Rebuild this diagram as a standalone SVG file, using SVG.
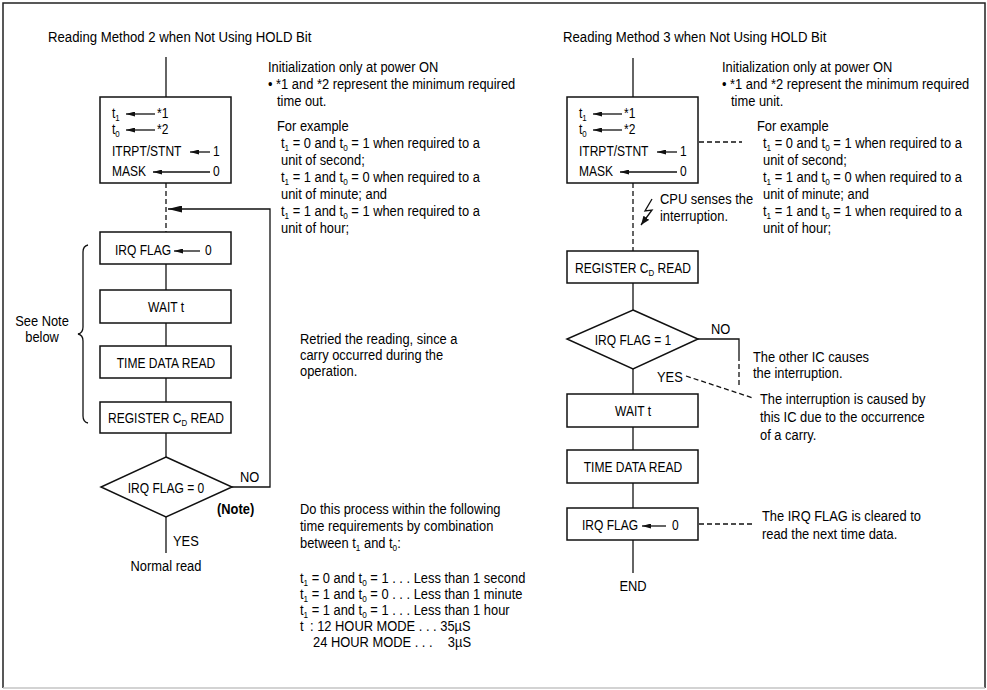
<svg xmlns="http://www.w3.org/2000/svg" width="987" height="690" viewBox="0 0 987 690">
<style>
text { font-family: "Liberation Sans", Arial, sans-serif; font-size: 15px; fill: #000; transform-box: fill-box; transform-origin: 0% 50%; transform: scaleX(0.86); }
.t { font-size: 15.5px; transform: scaleX(0.85); }
.bx { font-size: 14.5px; transform: scaleX(0.83); }
.sub { font-size: 9.5px; }
.mid { text-anchor: middle; transform-origin: 50% 50%; }
.end { text-anchor: end; transform-origin: 100% 50%; }
.b { font-weight: bold; }
.box { fill: #fff; stroke: #111; stroke-width: 1.5; }
.ln { stroke: #111; stroke-width: 1.3; fill: none; }
.dash { stroke-dasharray: 5 3; }
</style>
<defs>
<marker id="sa" markerUnits="userSpaceOnUse" markerWidth="9" markerHeight="5" viewBox="0 0 9 5" refX="9" refY="2.5" orient="auto"><path d="M0,0 L9,2.5 L0,5 z" fill="#111"/></marker>
<marker id="la" markerUnits="userSpaceOnUse" markerWidth="14" markerHeight="7" viewBox="0 0 14 7" refX="14" refY="3.5" orient="auto"><path d="M0,0 L14,3.5 L0,7 z" fill="#111"/></marker>
<marker id="za" markerUnits="userSpaceOnUse" markerWidth="9" markerHeight="7" viewBox="0 0 9 7" refX="9" refY="3.5" orient="auto"><path d="M0,0 L9,3.5 L0,7 z" fill="#111"/></marker>
</defs>

<g id="frame">
<path d="M3,688 V3 H985 V688" fill="none" stroke="#222" stroke-width="1.5"/>
<path d="M3,688 H985" stroke="#c4c4c4" stroke-width="1.5"/>
</g>

<g id="connectors">
<line class="ln" x1="166" y1="57" x2="166" y2="97"/>
<line class="ln dash" x1="166" y1="183" x2="166" y2="232"/>
<path class="ln" d="M232,487 H270 V209 H168" marker-end="url(#la)"/>
<line class="ln" x1="166" y1="264" x2="166" y2="290"/>
<line class="ln" x1="166" y1="323" x2="166" y2="346"/>
<line class="ln" x1="166" y1="378" x2="166" y2="402"/>
<line class="ln" x1="166" y1="433" x2="166" y2="457"/>
<line class="ln" x1="166" y1="517" x2="166" y2="553"/>
<line class="ln" x1="633" y1="58" x2="633" y2="97"/>
<line class="ln dash" x1="633" y1="183" x2="633" y2="251"/>
<line class="ln dash" x1="699" y1="142" x2="742" y2="142"/>
<polyline class="ln" points="652,199 645,211 652,210 641,225" marker-end="url(#za)"/>
<line class="ln" x1="633" y1="283" x2="633" y2="310"/>
<path class="ln" d="M698,339 H739 V356"/>
<line class="ln dash" x1="739" y1="356" x2="739" y2="388"/>
<line class="ln dash" x1="686" y1="376" x2="753" y2="398"/>
<line class="ln" x1="633" y1="369" x2="633" y2="394"/>
<line class="ln" x1="633" y1="427" x2="633" y2="450"/>
<line class="ln" x1="633" y1="483" x2="633" y2="508"/>
<line class="ln dash" x1="699" y1="524" x2="752" y2="524"/>
<line class="ln" x1="633" y1="540" x2="633" y2="573"/>
</g>

<!-- LEFT -->
<g id="title-left"><text class="t" x="48" y="42">Reading Method 2 when Not Using HOLD Bit</text></g>

<g id="l-init">
<rect class="box" x="100" y="97" width="131" height="86"/>
<text class="bx" x="112" y="118">t<tspan class="sub" dy="3">1</tspan></text>
<line class="ln" x1="155" y1="114" x2="126" y2="114" marker-end="url(#sa)"/>
<text class="bx" x="157" y="118">*1</text>
<text class="bx" x="112" y="134">t<tspan class="sub" dy="3">0</tspan></text>
<line class="ln" x1="155" y1="130" x2="126" y2="130" marker-end="url(#sa)"/>
<text class="bx" x="157" y="134">*2</text>
<text class="bx" x="112" y="156">ITRPT/STNT</text>
<line class="ln" x1="210" y1="152" x2="190" y2="152" marker-end="url(#sa)"/>
<text class="bx" x="213" y="156">1</text>
<text class="bx" x="112" y="176">MASK</text>
<line class="ln" x1="210" y1="172" x2="153" y2="172" marker-end="url(#sa)"/>
<text class="bx" x="213" y="176">0</text>
</g>

<g id="l-irq-clear">
<rect class="box" x="100" y="232" width="131" height="32"/>
<text class="bx" x="115" y="255">IRQ FLAG</text>
<line class="ln" x1="200" y1="251" x2="174" y2="251" marker-end="url(#sa)"/>
<text class="bx" x="205" y="255">0</text>
</g>
<g id="l-wait"><rect class="box" x="100" y="290" width="131" height="33"/><text class="bx mid" x="166" y="312">WAIT t</text></g>
<g id="l-time"><rect class="box" x="100" y="346" width="131" height="32"/><text class="bx mid" x="166" y="368">TIME DATA READ</text></g>
<g id="l-reg"><rect class="box" x="100" y="402" width="131" height="31"/><text class="bx mid" x="166" y="423">REGISTER C<tspan class="sub" dy="3">D</tspan><tspan dy="-3"> READ</tspan></text></g>
<g id="l-dec">
<polygon class="box" points="166,457 232,487 166,517 101,487"/>
<text class="bx mid" x="166" y="493">IRQ FLAG = 0</text>
<text x="240" y="482">NO</text>
<text x="173" y="546">YES</text>
</g>
<g id="l-normal"><text class="mid" x="166" y="571">Normal read</text></g>

<g id="l-brace">
<path class="ln" d="M88,245 Q83,246 83,252 L83,327 Q83,333 78,334 Q83,335 83,341 L83,416 Q83,422 88,423"/>
<text class="mid" x="42" y="326">See Note</text>
<text class="mid" x="42" y="342">below</text>
</g>

<g id="l-notes-top">
<text x="268" y="72">Initialization only at power ON</text>
<text x="268" y="89">• *1 and *2 represent the minimum required</text>
<text x="277" y="106">time out.</text>
<text x="277" y="131">For example</text>
<text x="281" y="148">t<tspan class="sub" dy="3">1</tspan><tspan dy="-3"> = 0 and t</tspan><tspan class="sub" dy="3">0</tspan><tspan dy="-3"> = 1 when required to a</tspan></text>
<text x="281" y="165">unit of second;</text>
<text x="281" y="182">t<tspan class="sub" dy="3">1</tspan><tspan dy="-3"> = 1 and t</tspan><tspan class="sub" dy="3">0</tspan><tspan dy="-3"> = 0 when required to a</tspan></text>
<text x="281" y="199">unit of minute; and</text>
<text x="281" y="216">t<tspan class="sub" dy="3">1</tspan><tspan dy="-3"> = 1 and t</tspan><tspan class="sub" dy="3">0</tspan><tspan dy="-3"> = 1 when required to a</tspan></text>
<text x="281" y="233">unit of hour;</text>
</g>

<g id="l-retry">
<text x="300" y="344">Retried the reading, since a</text>
<text x="300" y="360">carry occurred during the</text>
<text x="300" y="376">operation.</text>
</g>

<g id="l-note">
<text class="b" x="217" y="514">(Note)</text>
<text x="300" y="514">Do this process within the following</text>
<text x="300" y="531">time requirements by combination</text>
<text x="300" y="548">between t<tspan class="sub" dy="3">1</tspan><tspan dy="-3"> and t</tspan><tspan class="sub" dy="3">0</tspan><tspan dy="-3">:</tspan></text>
<text x="300" y="583">t<tspan class="sub" dy="3">1</tspan><tspan dy="-3"> = 0 and t</tspan><tspan class="sub" dy="3">0</tspan><tspan dy="-3"> = 1 . . . Less than 1 second</tspan></text>
<text x="300" y="599">t<tspan class="sub" dy="3">1</tspan><tspan dy="-3"> = 1 and t</tspan><tspan class="sub" dy="3">0</tspan><tspan dy="-3"> = 0 . . . Less than 1 minute</tspan></text>
<text x="300" y="615">t<tspan class="sub" dy="3">1</tspan><tspan dy="-3"> = 1 and t</tspan><tspan class="sub" dy="3">0</tspan><tspan dy="-3"> = 1 . . . Less than 1 hour</tspan></text>
<text x="300" y="631">t</text>
<text x="310" y="631">: 12 HOUR MODE . . . 35µS</text>
<text x="313" y="647">24 HOUR MODE . . .</text>
<text class="end" x="471" y="647">3µS</text>
</g>

<!-- RIGHT -->
<g id="title-right"><text class="t" x="563" y="42">Reading Method 3 when Not Using HOLD Bit</text></g>

<g id="r-init">
<rect class="box" x="567" y="97" width="131" height="86"/>
<text class="bx" x="579" y="118">t<tspan class="sub" dy="3">1</tspan></text>
<line class="ln" x1="622" y1="114" x2="593" y2="114" marker-end="url(#sa)"/>
<text class="bx" x="624" y="118">*1</text>
<text class="bx" x="579" y="134">t<tspan class="sub" dy="3">0</tspan></text>
<line class="ln" x1="622" y1="130" x2="593" y2="130" marker-end="url(#sa)"/>
<text class="bx" x="624" y="134">*2</text>
<text class="bx" x="579" y="156">ITRPT/STNT</text>
<line class="ln" x1="677" y1="152" x2="657" y2="152" marker-end="url(#sa)"/>
<text class="bx" x="680" y="156">1</text>
<text class="bx" x="579" y="176">MASK</text>
<line class="ln" x1="677" y1="172" x2="620" y2="172" marker-end="url(#sa)"/>
<text class="bx" x="680" y="176">0</text>
</g>

<g id="r-cpu">
<text x="660" y="204">CPU senses the</text>
<text x="660" y="221">interruption.</text>
</g>

<g id="r-reg"><rect class="box" x="567" y="251" width="131" height="32"/><text class="bx mid" x="633" y="273">REGISTER C<tspan class="sub" dy="3">D</tspan><tspan dy="-3"> READ</tspan></text></g>
<g id="r-dec">
<polygon class="box" points="633,310 698,339 633,369 567,339"/>
<text class="bx mid" x="633" y="345">IRQ FLAG = 1</text>
<text x="711" y="334">NO</text>
<text x="657" y="382">YES</text>
</g>
<g id="r-other"><text x="753" y="362">The other IC causes</text><text x="753" y="378">the interruption.</text></g>
<g id="r-carry"><text x="760" y="404">The interruption is caused by</text><text x="760" y="422">this IC due to the occurrence</text><text x="760" y="440">of a carry.</text></g>
<g id="r-wait"><rect class="box" x="567" y="394" width="131" height="33"/><text class="bx mid" x="633" y="416">WAIT t</text></g>
<g id="r-time"><rect class="box" x="567" y="450" width="131" height="33"/><text class="bx mid" x="633" y="472">TIME DATA READ</text></g>
<g id="r-irq-clear">
<rect class="box" x="567" y="508" width="131" height="32"/>
<text class="bx" x="582" y="530">IRQ FLAG</text>
<line class="ln" x1="666" y1="526" x2="642" y2="526" marker-end="url(#sa)"/>
<text class="bx" x="672" y="530">0</text>
</g>
<g id="r-cleared"><text x="762" y="521">The IRQ FLAG is cleared to</text><text x="762" y="539">read the next time data.</text></g>
<g id="r-end"><text class="mid" x="633" y="591">END</text></g>

<g id="r-notes-top">
<text x="722" y="72">Initialization only at power ON</text>
<text x="722" y="89">• *1 and *2 represent the minimum required</text>
<text x="731" y="106">time unit.</text>
<text x="757" y="131">For example</text>
<text x="763" y="148">t<tspan class="sub" dy="3">1</tspan><tspan dy="-3"> = 0 and t</tspan><tspan class="sub" dy="3">0</tspan><tspan dy="-3"> = 1 when required to a</tspan></text>
<text x="763" y="165">unit of second;</text>
<text x="763" y="182">t<tspan class="sub" dy="3">1</tspan><tspan dy="-3"> = 1 and t</tspan><tspan class="sub" dy="3">0</tspan><tspan dy="-3"> = 0 when required to a</tspan></text>
<text x="763" y="199">unit of minute; and</text>
<text x="763" y="216">t<tspan class="sub" dy="3">1</tspan><tspan dy="-3"> = 1 and t</tspan><tspan class="sub" dy="3">0</tspan><tspan dy="-3"> = 1 when required to a</tspan></text>
<text x="763" y="233">unit of hour;</text>
</g>
</svg>
